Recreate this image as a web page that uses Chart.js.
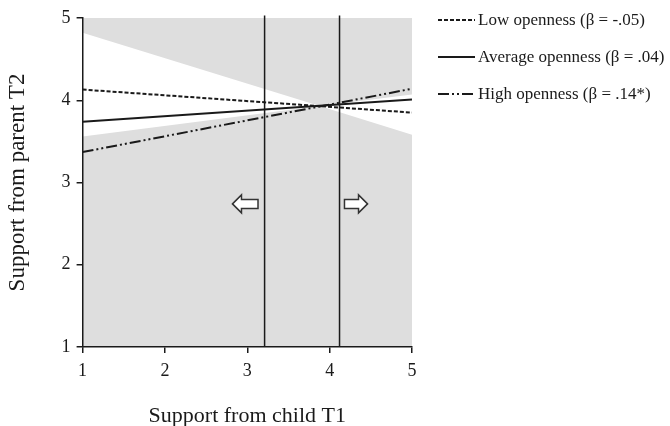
<!DOCTYPE html>
<html>
<head>
<meta charset="utf-8">
<script src="https://cdn.jsdelivr.net/npm/chart.js@4/dist/chart.umd.min.js"></script>
<style>
  body { margin: 0; background: #fff; }
  #wrap { width: 670px; height: 426px; }
</style>
</head>
<body>
<div id="wrap"><canvas id="myChart"></canvas></div>
<script>
// values
const lineX = [1, 5];
const lowY = [4.13, 3.85];
const averageY = [3.74, 4.01];
const highY = [3.37, 4.14];

const bandX = [1, 3.88, 5];
const bandUpper = [4.82, 3.93, 4.07];
const bandLower = [3.56, 3.93, 3.58];

const regionLines = [3.21, 4.12];
const regionY = [1, 5.03];

const arrowTips = [2.82, 4.46];
const arrowTails = [3.13, 4.18];
const arrowY = 2.74;

const labels = [
    'Low openness (β = -.05)',
    'Average openness (β = .04)',
    'High openness (β = .14*)'
];
const ticks = [1, 2, 3, 4, 5];

const gray = '#dedede';
const ink = '#1a1a1a';
const serif = '"Liberation Serif", "DejaVu Serif", serif';

const pts = (xs, ys) => xs.map((x, i) => ({ x: x, y: ys[i] }));

// hollow arrows either side of the region lines
const arrowPlugin = {
    id: 'arrows',
    afterDatasetsDraw(chart) {
        const ctx = chart.ctx;
        const xs = chart.scales.x, ys = chart.scales.y;
        const cy = ys.getPixelForValue(arrowY);
        arrowTips.forEach((tv, i) => {
            const tip = xs.getPixelForValue(tv);
            const tail = xs.getPixelForValue(arrowTails[i]);
            const head = 9 * (tail > tip ? 1 : -1);
            ctx.save();
            ctx.beginPath();
            ctx.moveTo(tip, cy);
            ctx.lineTo(tip + head, cy - 9);
            ctx.lineTo(tip + head, cy - 4.5);
            ctx.lineTo(tail, cy - 4.5);
            ctx.lineTo(tail, cy + 4.5);
            ctx.lineTo(tip + head, cy + 4.5);
            ctx.lineTo(tip + head, cy + 9);
            ctx.closePath();
            ctx.fillStyle = '#fff';
            ctx.fill();
            ctx.lineWidth = 1.5;
            ctx.strokeStyle = '#333';
            ctx.stroke();
            ctx.restore();
        });
    }
};

// legend to the right, built from the labelled datasets
const legendPlugin = {
    id: 'sideLegend',
    afterDraw(chart) {
        const ctx = chart.ctx;
        const x0 = 438, x1 = 475, top = 20, step = 37;
        let row = 0;
        chart.data.datasets.forEach((ds) => {
            if (!ds.label) return;
            const y = top + row * step;
            ctx.save();
            ctx.strokeStyle = ds.borderColor;
            ctx.lineWidth = ds.borderWidth;
            ctx.setLineDash(ds.borderDash || []);
            ctx.beginPath();
            ctx.moveTo(x0, y);
            ctx.lineTo(x1, y);
            ctx.stroke();
            ctx.setLineDash([]);
            ctx.fillStyle = ink;
            ctx.font = '17px ' + serif;
            ctx.textBaseline = 'middle';
            ctx.fillText(ds.label, x1 + 3, y + 1);
            ctx.restore();
            row++;
        });
    }
};

const data = {
    datasets: [
        {
            data: pts(bandX, bandUpper),
            fill: { value: 5 },
            backgroundColor: gray,
            borderWidth: 0,
            pointRadius: 0,
            order: 10
        },
        {
            data: pts(bandX, bandLower),
            fill: { value: 1 },
            backgroundColor: gray,
            borderWidth: 0,
            pointRadius: 0,
            order: 10
        },
        {
            label: labels[0],
            data: pts(lineX, lowY),
            borderColor: ink,
            borderWidth: 2,
            borderDash: [4, 2],
            pointRadius: 0,
            order: 1
        },
        {
            label: labels[1],
            data: pts(lineX, averageY),
            borderColor: ink,
            borderWidth: 2,
            pointRadius: 0,
            order: 1
        },
        {
            label: labels[2],
            data: pts(lineX, highY),
            borderColor: ink,
            borderWidth: 2,
            borderDash: [11, 3, 2, 3, 2, 3],
            pointRadius: 0,
            order: 1
        },
        {
            data: pts([regionLines[0], regionLines[0]], regionY),
            borderColor: ink,
            borderWidth: 1.5,
            pointRadius: 0,
            clip: false,
            order: 0
        },
        {
            data: pts([regionLines[1], regionLines[1]], regionY),
            borderColor: ink,
            borderWidth: 1.5,
            pointRadius: 0,
            clip: false,
            order: 0
        }
    ]
};

const axis = (title, size) => ({
    type: 'linear',
    min: 1,
    max: 5,
    afterBuildTicks: (s) => { s.ticks = ticks.map(v => ({ value: v })); },
    border: { display: true, color: ink, width: 1.5, z: 1 },
    grid: { display: true, drawOnChartArea: false, drawTicks: true, tickLength: 6, color: ink, lineWidth: 1.5 },
    ticks: { color: ink, font: { family: serif, size: 18 }, padding: 6 },
    title: { display: true, text: title, color: ink, font: { family: serif, size: size } }
});

const xAxis = axis('Support from child T1', 22);
xAxis.ticks.padding = 7;
xAxis.title.padding = { top: 14, bottom: -3 };
const yAxis = axis('Support from parent T2', 23);
yAxis.title.padding = { top: 0, bottom: 24 };

const config = {
    type: 'scatter',
    data: data,
    options: {
        responsive: true,
        maintainAspectRatio: false,
        animation: false,
        showLine: true,
        layout: { padding: { left: 4, top: 18, right: 258, bottom: 0 } },
        scales: { x: xAxis, y: yAxis },
        plugins: {
            tooltip: { enabled: false },
            legend: { display: false }
        }
    },
    plugins: [arrowPlugin, legendPlugin]
};

const myChart = new Chart(document.getElementById('myChart'), config);
</script>
</body>
</html>
